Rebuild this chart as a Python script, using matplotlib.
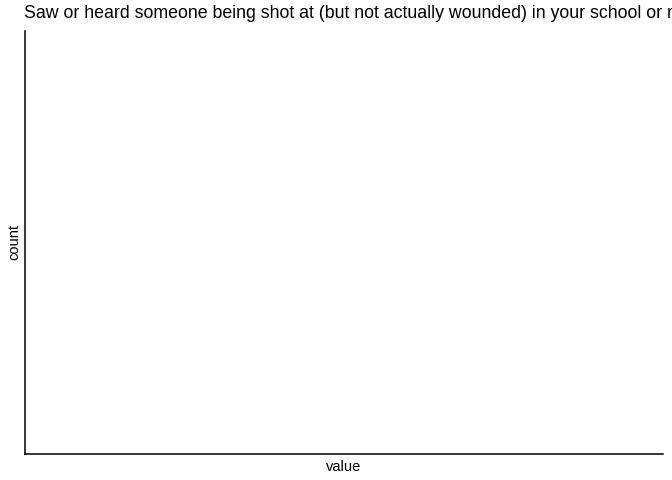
import matplotlib
matplotlib.use("Agg")
import matplotlib.pyplot as plt

title = "Saw or heard someone being shot at (but not actually wounded) in your school or neighborhood"
values = []  # no data in the reference chart

plt.rcParams['font.family'] = ['Liberation Sans', 'DejaVu Sans']

fig = plt.figure(figsize=(6.72, 4.8), dpi=100)
ax = fig.add_axes([24.5/672, 1-454/480, (663-24.5)/672, (454-31)/480])
if values:
    ax.hist(values)
ax.set_xticks([])
ax.set_yticks([])
for s in ['top', 'right']:
    ax.spines[s].set_visible(False)
for s in ['left', 'bottom']:
    ax.spines[s].set_linewidth(1.1)
ax.set_xlabel("value", fontsize=10.5, labelpad=4)
ax.set_ylabel("count", fontsize=10.5, labelpad=2)
fig.text(24.5/672, 1-14/480, title, fontsize=12.8, ha='left', va='center')
fig.savefig("out.png", dpi=100)
